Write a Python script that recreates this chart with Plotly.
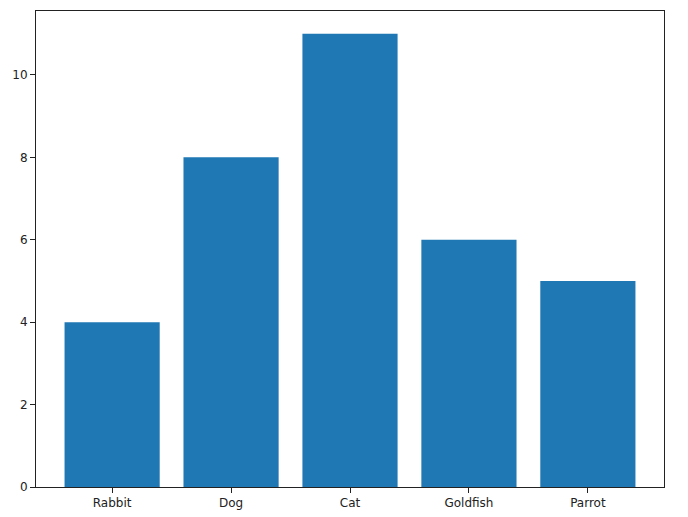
import plotly.graph_objects as go

categories = ["Rabbit", "Dog", "Cat", "Goldfish", "Parrot"]
values = [4, 8, 11, 6, 5]
y_ticks = [0, 2, 4, 6, 8, 10]

fig = go.Figure(go.Bar(x=list(range(len(categories))), y=values,
                       marker=dict(color="#1f77b4", line=dict(width=0)),
                       width=0.8))

# page has an 8px body margin, so the figure is sized/offset to compensate
fig.update_layout(
    width=680, height=509,
    margin=dict(l=28, r=24, t=3, b=30),
    plot_bgcolor="white", paper_bgcolor="white",
    font=dict(family="DejaVu Sans", size=12, color="#222222"),
    showlegend=False,
)
fig.update_xaxes(
    range=[-0.64, 4.64], tickvals=list(range(len(categories))), ticktext=categories,
    showgrid=False, zeroline=False, showline=True, linecolor="#222222", linewidth=1,
    mirror=True, ticks="outside", ticklen=5, tickcolor="#222222",
)
fig.update_yaxes(
    range=[0, 11.55], tickvals=y_ticks,
    showgrid=False, zeroline=False, showline=True, linecolor="#222222", linewidth=1,
    mirror=True, ticks="outside", ticklen=5, tickcolor="#222222",
)
fig.write_html("out.html")
